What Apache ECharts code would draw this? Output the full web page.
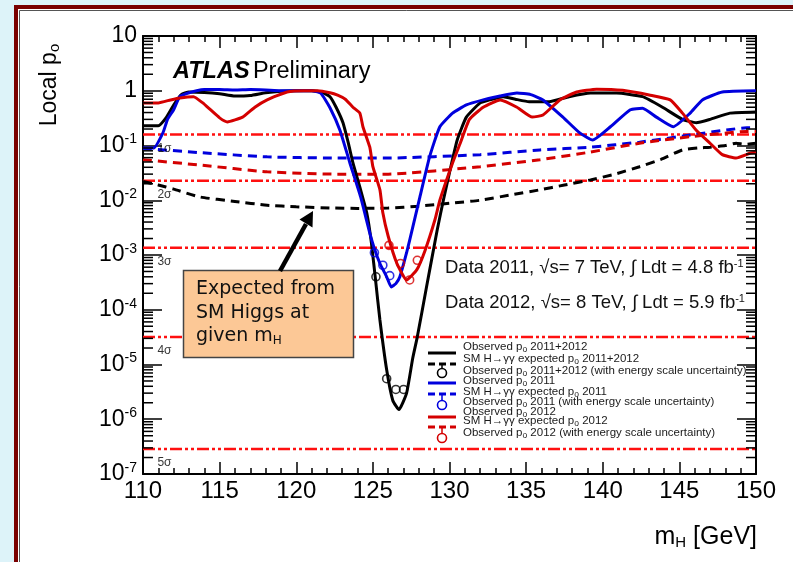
<!DOCTYPE html>
<html><head><meta charset="utf-8">
<script src="https://cdn.jsdelivr.net/npm/echarts@6/dist/echarts.min.js"></script>
<style>html,body{margin:0;padding:0;background:#ddf3f9;}#c{width:793px;height:562px;}</style>
</head><body><div id="c"></div>
<script>
// ---- data ----
var obsComb = [[110,0.23],[111,0.23],[111.5,0.32],[112,0.55],[112.5,0.85],[113,0.95],[114,0.93],[115,0.88],[116,0.8],[117,0.82],[118,0.92],[119,0.98],[120,1.0],[121,1.0],[121.7,0.93],[122.2,0.78],[122.6,0.5],[123.05,0.26],[123.4,0.11],[123.7,0.048],[124.2,0.0155],[124.6,0.0059],[124.9,0.0017],[125.2,3e-4],[125.46,6.5e-5],[125.9,8e-6],[126.3,2.2e-6],[126.7,1.5e-6],[127.2,3e-6],[127.6,1.3e-5],[127.9,3.2e-5],[128.5,2.6e-4],[129.2,2.9e-3],[129.6,0.01],[130.0,0.032],[130.5,0.125],[131.1,0.33],[132.0,0.6],[132.6,0.68],[133.5,0.78],[134.3,0.7],[135.2,0.63],[136.5,0.63],[137.8,0.78],[139.2,0.91],[140.9,0.91],[142.6,0.78],[143.9,0.5],[145.2,0.3],[146.1,0.26],[147.0,0.3],[148.3,0.39],[150,0.41]];
var obs2011 = [[110,0.09],[110.7,0.09],[111.3,0.17],[111.6,0.3],[112.0,0.45],[112.4,0.78],[112.9,0.9],[113.5,1.0],[114,1.05],[115,1.05],[116,1.03],[117,1.05],[118,1.03],[119,1.0],[120,1.0],[121,1.0],[121.6,0.9],[122.2,0.49],[122.85,0.19],[123.5,0.048],[124.2,0.0115],[124.8,2.5e-3],[125.1,1.3e-3],[125.46,7e-4],[125.9,4e-4],[126.2,2.6e-4],[126.5,3e-4],[126.76,4e-4],[127.2,1.1e-3],[127.6,3.2e-3],[128.07,0.0115],[128.7,0.062],[129.37,0.22],[130.2,0.39],[131.1,0.55],[132.2,0.68],[133.3,0.8],[134.4,0.91],[135.3,0.85],[136.1,0.68],[137.4,0.33],[138.5,0.17],[139.35,0.126],[140.5,0.22],[141.8,0.45],[142.6,0.48],[143.5,0.33],[144.6,0.22],[145.7,0.39],[146.5,0.68],[147.8,0.95],[150,1.0]];
var obs2012 = [[110,0.6],[111,0.6],[111.8,0.68],[112.4,0.74],[113.3,0.78],[113.9,0.6],[114.4,0.45],[115.0,0.32],[115.5,0.27],[116.5,0.33],[117.3,0.5],[118.1,0.68],[119.4,0.95],[120.5,1.0],[121.4,1.0],[122.2,0.92],[122.7,0.83],[123.2,0.7],[123.7,0.5],[124.15,0.39],[124.35,0.22],[124.8,0.093],[125.0,0.041],[125.46,0.0155],[125.65,0.0059],[126.0,2.2e-3],[126.57,7e-4],[127.2,3.5e-4],[127.87,5.4e-4],[128.4,1.2e-3],[129.05,4.4e-3],[129.37,0.01],[130.2,0.048],[130.7,0.11],[131.3,0.3],[132.2,0.5],[133.3,0.68],[134.4,0.5],[135.4,0.33],[136.1,0.36],[137.2,0.68],[138.3,0.95],[139.6,1.07],[141.3,1.02],[143.1,0.83],[144.4,0.68],[145.2,0.39],[146.1,0.19],[147.0,0.11],[147.8,0.068],[148.7,0.059],[149.6,0.072],[150,0.075]];
var expComb = [[110,0.022],[111,0.019],[112,0.016],[113.7,0.0115],[116,0.0095],[118.1,0.0081],[120,0.0076],[122.4,0.0072],[124,0.0071],[126,0.0072],[128,0.0078],[130,0.0088],[132,0.01],[134,0.0125],[135.9,0.0155],[137.5,0.019],[139.2,0.0235],[140.8,0.03],[142.4,0.041],[143.8,0.056],[145.2,0.083],[146.2,0.09],[147,0.093],[148,0.1],[148.7,0.11],[149.3,0.105],[150,0.11]];
var exp2011 = [[110,0.089],[113.7,0.074],[118.1,0.062],[122.4,0.059],[126,0.059],[132,0.068],[135.9,0.083],[139.2,0.093],[142.4,0.115],[145.7,0.155],[149.4,0.21],[150,0.21]];
var exp2012 = [[110,0.055],[113.7,0.044],[118.1,0.033],[122.4,0.030],[126,0.030],[132,0.041],[135.9,0.055],[139.2,0.076],[142.4,0.11],[145.7,0.145],[149.4,0.18],[150,0.18]];
var escComb = [[125.2,4e-4],[125.9,5.5e-6],[126.5,3.5e-6],[127.0,3.5e-6]];
var esc2011 = [[125.1,1.1e-3],[125.65,6.5e-4],[126.1,4.2e-4]];
var esc2012 = [[126.05,1.5e-3],[126.8,7e-4],[127.4,3.5e-4],[127.9,8e-4]];
var sigmaP = [0.1587, 0.02275, 1.35e-3, 3.17e-5, 2.87e-7];
var sigmaNames = ['1σ','2σ','3σ','4σ','5σ'];
var sigmaLabelX = 111.4;
var xMin = 110, xMax = 150, xStep = 5;
var yMin = 1e-7, yMax = 10;
var legendRows = [
  'Observed p{s|o} 2011+2012',
  'SM H→γγ expected p{s|o} 2011+2012',
  'Observed p{s|o} 2011+2012 (with energy scale uncertainty)',
  'Observed p{s|o} 2011',
  'SM H→γγ expected p{s|o} 2011',
  'Observed p{s|o} 2011 (with energy scale uncertainty)',
  'Observed p{s|o} 2012',
  'SM H→γγ expected p{s|o} 2012',
  'Observed p{s|o} 2012 (with energy scale uncertainty)'
];

// ---- styles ----
var BLK = '#000000', BLU = '#0000dd', RED = '#d40000', SIG = '#ff1010';
var FF = '"Liberation Sans", Arial, sans-serif';

// minor tick values for the log axis (2..9 x 10^k)
var minorVals = [];
for (var k = -7; k <= 0; k++) for (var m = 2; m <= 9; m++) minorVals.push([xMin, m * Math.pow(10, k)]);

var chart = echarts.init(document.getElementById('c'));

function lineSeries(name, data, color, dashed) {
  return { name: name, type: 'line', data: data, symbol: 'none', smooth: 0.15, z: dashed ? 3 : 4,
    lineStyle: { color: color, width: 3, type: dashed ? [9, 6] : 'solid' }, silent: true };
}
function circSeries(data, color) {
  return { type: 'scatter', data: data, symbol: 'circle', symbolSize: 8, z: 5,
    itemStyle: { color: 'rgba(0,0,0,0)', borderColor: color, borderWidth: 1.6 }, silent: true };
}

var series = [];
sigmaP.forEach(function (p, i) {
  series.push({ type: 'line', data: [[xMin, p], [xMax, p]], symbol: 'none', z: 2, silent: true,
    lineStyle: { color: SIG, width: 2.5, type: [12, 3, 3, 3, 3, 3] } });
});
series.push({ type: 'scatter', symbolSize: 0, z: 6, silent: true,
  data: sigmaP.map(function (p, i) { return [sigmaLabelX, p, sigmaNames[i]]; }),
  label: { show: true, formatter: function (d) { return d.value[2]; }, position: 'inside', offset: [0, 14],
    fontFamily: FF, fontSize: 12, color: '#000' } });
series.push(lineSeries('expComb', expComb, BLK, true));
series.push(lineSeries('exp2011', exp2011, BLU, true));
series.push(lineSeries('exp2012', exp2012, RED, true));
series.push(lineSeries('obsComb', obsComb, BLK, false));
series.push(lineSeries('obs2011', obs2011, BLU, false));
series.push(lineSeries('obs2012', obs2012, RED, false));
series.push(circSeries(escComb, BLK));
series.push(circSeries(esc2011, BLU));
series.push(circSeries(esc2012, RED));
// minor ticks of the log axes (left and right)
series.push({ type: 'custom', data: minorVals, z: 10, silent: true, clip: false,
  renderItem: function (params, api) {
    var v = api.value(1);
    var l = api.coord([xMin, v]), r = api.coord([xMax, v]);
    return { type: 'group', children: [
      { type: 'line', shape: { x1: l[0], y1: l[1], x2: l[0] + 10, y2: l[1] }, style: { stroke: '#000', lineWidth: 1.5 } },
      { type: 'line', shape: { x1: r[0] - 10, y1: r[1], x2: r[0], y2: r[1] }, style: { stroke: '#000', lineWidth: 1.5 } }
    ] };
  } });

function yLabel(v) {
  var e = Math.round(Math.log(v) / Math.LN10);
  if (e === 1) return '10';
  if (e === 0) return '1';
  return '10{s|' + e + '}';
}

var BOXF = '"DejaVu Sans", sans-serif';
var graphics = [
  { type: 'rect', z: -10, shape: { x: 16, y: 7, width: 820, height: 600 }, style: { fill: '#fff', stroke: '#7a0000', lineWidth: 4 } },
  { type: 'rect', z: -9, shape: { x: 19.5, y: 10.5, width: 820, height: 600 }, style: { fill: 'none', stroke: '#555', lineWidth: 1 } },
  { type: 'text', x: 173, y: 72, z: 20, style: { text: '{b|ATLAS} {n|Preliminary}', verticalAlign: 'middle',
    rich: { b: { fontFamily: FF, fontSize: 23.5, fontWeight: 'bold', fontStyle: 'italic', fill: '#000' },
            n: { fontFamily: FF, fontSize: 23.5, fill: '#000' } } } },
  { type: 'text', x: 445, y: 268, z: 20, style: { text: 'Data 2011, √s= 7 TeV, ∫ Ldt = 4.8 fb{s|-1}', verticalAlign: 'middle',
    fontFamily: FF, fontSize: 18.5, fill: '#111', rich: { s: { fontSize: 11, verticalAlign: 'top', padding: [0, 0, 9, 0], fill: '#111' } } } },
  { type: 'text', x: 445, y: 303, z: 20, style: { text: 'Data 2012, √s= 8 TeV, ∫ Ldt = 5.9 fb{s|-1}', verticalAlign: 'middle',
    fontFamily: FF, fontSize: 18.5, fill: '#111', rich: { s: { fontSize: 11, verticalAlign: 'top', padding: [0, 0, 9, 0], fill: '#111' } } } },
  // orange annotation box
  { type: 'rect', z: 20, shape: { x: 183.5, y: 270.5, width: 170, height: 87 }, style: { fill: '#fcc896', stroke: '#444', lineWidth: 1.5 } },
  { type: 'text', x: 196, y: 289, z: 21, style: { text: 'Expected from', verticalAlign: 'middle', fontFamily: BOXF, fontSize: 19, fill: '#111' } },
  { type: 'text', x: 196, y: 313, z: 21, style: { text: 'SM Higgs at', verticalAlign: 'middle', fontFamily: BOXF, fontSize: 19, fill: '#111' } },
  { type: 'text', x: 196, y: 336, z: 21, style: { text: 'given m{s|H}', verticalAlign: 'middle', fontFamily: BOXF, fontSize: 19, fill: '#111',
    rich: { s: { fontSize: 12, verticalAlign: 'bottom', padding: [9, 0, 0, 0], fontFamily: BOXF, fill: '#111' } } } },
  // arrow
  { type: 'line', z: 21, shape: { x1: 280, y1: 271, x2: 306, y2: 224 }, style: { stroke: '#000', lineWidth: 4.5 } },
  { type: 'polygon', z: 21, shape: { points: [[313, 211], [312.5, 227.5], [299.5, 219.5]] }, style: { fill: '#000' } },
  // axis titles
  { type: 'text', x: 50, y: 85, rotation: Math.PI / 2, z: 20, style: { text: 'Local p{s|o}', align: 'center', verticalAlign: 'middle',
    fontFamily: FF, fontSize: 23, fill: '#000', rich: { s: { fontSize: 15, verticalAlign: 'bottom', padding: [10, 0, 0, 0], fill: '#000' } } } },
  { type: 'text', x: 757, y: 537, z: 20, style: { text: 'm{s|H} [GeV]', align: 'right', verticalAlign: 'middle',
    fontFamily: FF, fontSize: 25, fill: '#000', rich: { s: { fontSize: 15, verticalAlign: 'bottom', padding: [12, 0, 0, 0], fill: '#000' } } } }
];
// legend
var legY = [347, 359, 371, 381, 392, 402, 412, 421, 433];
var symY = [353, 364, 373, 383, 394, 405, 417, 427, 438];
var legColors = [BLK, BLK, BLK, BLU, BLU, BLU, RED, RED, RED];
legendRows.forEach(function (t, i) {
  graphics.push({ type: 'text', x: 463, y: legY[i], z: 22, style: { text: t, verticalAlign: 'middle', fontFamily: FF, fontSize: 11.5, fill: '#1a1a1a',
    rich: { s: { fontSize: 8.5, verticalAlign: 'bottom', padding: [6, 0, 0, 0], fill: '#1a1a1a' } } } });
  var kind = i % 3, c = legColors[i];
  if (kind === 0) graphics.push({ type: 'line', z: 22, shape: { x1: 428, y1: symY[i], x2: 456, y2: symY[i] }, style: { stroke: c, lineWidth: 3 } });
  else if (kind === 1) graphics.push({ type: 'line', z: 22, shape: { x1: 428, y1: symY[i], x2: 456, y2: symY[i] }, style: { stroke: c, lineWidth: 3, lineDash: [7, 4] } });
  else {
    graphics.push({ type: 'circle', z: 22, shape: { cx: 442, cy: symY[i], r: 4.5 }, style: { fill: 'none', stroke: c, lineWidth: 1.6 } });
    graphics.push({ type: 'line', z: 22, shape: { x1: 442, y1: symY[i] - 10, x2: 442, y2: symY[i] - 5 }, style: { stroke: c, lineWidth: 1.5 } });
  }
});

var axisTickCommon = { show: true, inside: true, lineStyle: { color: '#000', width: 1.5 } };
var option = {
  backgroundColor: '#ddf3f9',
  animation: false,
  grid: { left: 143, right: 37, top: 36, bottom: 88, containLabel: false },
  xAxis: [
    { type: 'value', min: xMin, max: xMax, interval: xStep, position: 'bottom',
      axisLine: { show: true, onZero: false, lineStyle: { color: '#000', width: 2 } },
      axisTick: Object.assign({}, axisTickCommon, { length: 12 }),
      minorTick: { show: true, splitNumber: 5, length: 6, lineStyle: { color: '#000', width: 1.5 } },
      splitLine: { show: false }, minorSplitLine: { show: false },
      axisLabel: { fontFamily: FF, fontSize: 24, color: '#000', margin: 5, lineHeight: 24 } },
    { type: 'value', min: xMin, max: xMax, interval: xStep, position: 'top',
      axisLine: { show: true, onZero: false, lineStyle: { color: '#000', width: 2 } },
      axisTick: Object.assign({}, axisTickCommon, { length: 12 }),
      minorTick: { show: true, splitNumber: 5, length: 6, lineStyle: { color: '#000', width: 1.5 } },
      splitLine: { show: false }, axisLabel: { show: false } }
  ],
  yAxis: [
    { type: 'log', logBase: 10, min: yMin, max: yMax, interval: 1, position: 'left',
      axisLine: { show: true, onZero: false, lineStyle: { color: '#000', width: 2 } },
      axisTick: Object.assign({}, axisTickCommon, { length: 19 }),
      splitLine: { show: false },
      axisLabel: { formatter: yLabel, fontFamily: FF, fontSize: 23, color: '#000', margin: 6,
        rich: { s: { fontFamily: FF, fontSize: 14, color: '#000', verticalAlign: 'top', padding: [0, 0, 12, 0] } } } },
    { type: 'log', logBase: 10, min: yMin, max: yMax, interval: 1, position: 'right',
      axisLine: { show: true, onZero: false, lineStyle: { color: '#000', width: 2 } },
      axisTick: Object.assign({}, axisTickCommon, { length: 19 }),
      splitLine: { show: false }, axisLabel: { show: false } }
  ],
  graphic: graphics,
  series: series
};
chart.setOption(option);
</script>
</body></html>
